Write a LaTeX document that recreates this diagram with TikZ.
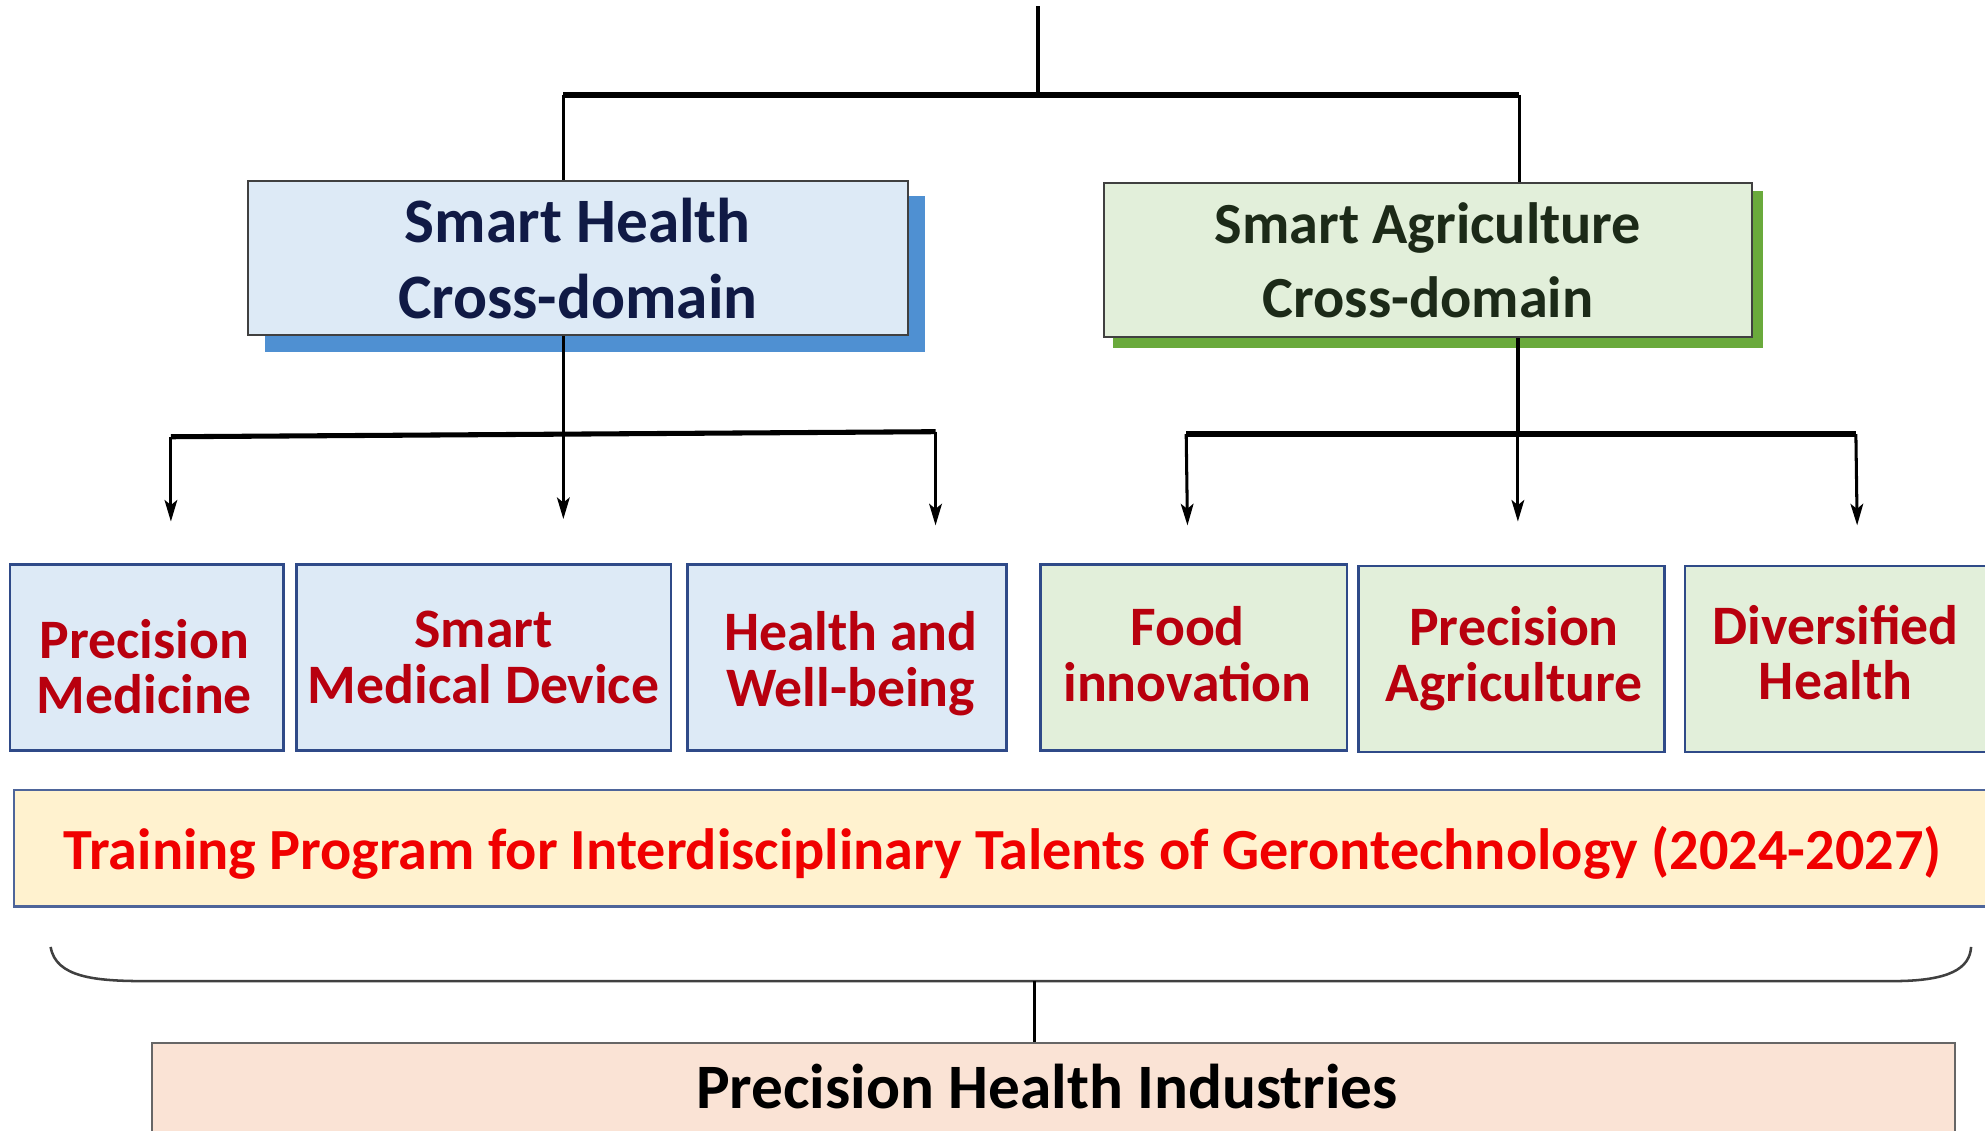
\documentclass[tikz,border=0pt]{standalone}
\usepackage{fontspec}
\setmainfont{Carlito}
\usetikzlibrary{arrows.meta,calc}
\definecolor{hfill}{HTML}{DDEAF6}
\definecolor{afill}{HTML}{E2EFDA}
\definecolor{hshadow}{HTML}{4F90D2}
\definecolor{ashadow}{HTML}{6AAA3C}
\definecolor{boxline}{HTML}{2F4A88}
\definecolor{navytext}{HTML}{101A45}
\definecolor{greentext}{HTML}{1C2A18}
\definecolor{redtext}{HTML}{B8000E}
\definecolor{brightred}{HTML}{F00000}
\definecolor{tfill}{HTML}{FFF2CF}
\definecolor{pfill}{HTML}{FAE3D5}
\tikzset{
  topbox/.style={draw=black!75, line width=1.6pt, minimum width=#1, minimum height=122pt, inner sep=0pt, align=center, font=\bfseries\fontsize{46}{58}\selectfont},
  subbox/.style={draw=boxline, line width=2pt, minimum width=#1, minimum height=147pt, inner sep=0pt},
  sublabel/.style={inner sep=0pt, align=center, text=redtext, font=\bfseries\fontsize{44}{44}\selectfont},
  wire/.style={line width=2.6pt, black},
  bar/.style={line width=4.5pt, black},
  arr/.style={line width=2.4pt, black, -{Stealth[length=17pt,width=10pt,inset=4pt]}}
}
\begin{document}
\begin{tikzpicture}[x=1pt,y=-1pt]
\useasboundingbox (0,0) rectangle (1568,893);
\fill[white] (0,0) rectangle (1568,893);
% top boxes with shadows
\fill[hshadow] (209,155) rectangle (731,278);
\node[topbox=521pt, fill=hfill, text=navytext, font=\bfseries\fontsize{50}{60}\selectfont] (sh) at (456.5,204) {Smart Health\\Cross-domain};
\fill[ashadow] (879,151) rectangle (1393,275);
\node[topbox=512pt, fill=afill, text=greentext] (sa) at (1128,205.5) {Smart Agriculture\\Cross-domain};
% sub boxes
\node[subbox=216pt, fill=hfill] (pm) at (116,519.5) {};
\node[subbox=296pt, fill=hfill] (smd) at (382,519.5) {};
\node[subbox=252pt, fill=hfill] (hw) at (669,519.5) {};
\node[subbox=242pt, fill=afill] (fi) at (943,519.5) {};
\node[subbox=242pt, fill=afill] (pa) at (1194,520.5) {};
\node[subbox=244pt, fill=afill] (dh) at (1453,520.5) {};
\node[sublabel] (pmt) at ($(pm)+(-2,7)$) {Precision\\Medicine};
\node[sublabel] (smdt) at ($(smd)+(0,0)$) {Smart\\Medical Device};
\node[sublabel] (hwt) at ($(hw)+(3,5)$) {Health and\\Well-being};
\node[sublabel] (fit) at ($(fi)+(-5,-3)$) {Food\\innovation};
\node[sublabel] (pat) at ($(pa)+(2,0)$) {Precision\\Agriculture};
\node[sublabel] (dht) at ($(dh)+(-3,-5)$) {Diversified\\Health};
% training program
\node[draw=boxline!85, line width=2pt, fill=tfill, minimum width=1562pt, minimum height=92pt, inner sep=0pt] (tp) at (792,670) {};
\node[inner sep=0pt, text=brightred, font=\bfseries\fontsize{46}{46}\selectfont] (tpt) at ($(tp)+(0,4)$) {Training Program for Interdisciplinary Talents of Gerontechnology (2024-2027)};
% precision health industries
\node[draw=black!60, line width=1.8pt, fill=pfill, minimum width=1424pt, minimum height=140pt, inner sep=0pt, anchor=north] (phi) at (832,823) {};
\node[text=black, font=\bfseries\fontsize{50}{50}\selectfont] (phit) at (827,858) {Precision Health Industries};
% top connectors
\coordinate (top) at (820,5);
\coordinate (j0) at (820,75);
\coordinate (jl) at (445,75);
\coordinate (jr) at (1200,75);
\draw[wire] (top) -- (j0);
\draw[bar] (jl) -- (jr);
\draw[wire] (jl) -- (jl |- sh.north);
\draw[wire] (jr) -- (jr |- sa.north);
% left branch
\coordinate (lb) at (445,343);
\coordinate (lb1) at (135,345);
\coordinate (lb3) at (739,341);
\coordinate (la1) at (135,412);
\coordinate (la2) at (445,410);
\coordinate (la3) at (739,415);
\draw[wire] (lb |- sh.south) -- (lb);
\draw[line width=4pt] (lb1) -- (lb3);
\draw[arr] (lb1) -- (la1);
\draw[arr] (lb) -- (la2);
\draw[arr] (lb3) -- (la3);
% right branch
\coordinate (rb) at (1199,343);
\coordinate (rb1) at (937,343);
\coordinate (rb3) at (1466,343);
\coordinate (ra1) at (938,415);
\coordinate (ra2) at (1199,412);
\coordinate (ra3) at (1467,415);
\draw[wire] (rb |- sa.south) -- (rb);
\draw[bar] (rb1) -- (rb3);
\draw[arr] (rb1) -- (ra1);
\draw[arr] (rb) -- (ra2);
\draw[arr] (rb3) -- (ra3);
% brace
\coordinate (bl) at (40,748);
\coordinate (br) at (1557,748);
\coordinate (bm) at (817,775);
\draw[line width=2pt, black!75] (bl) .. controls (44,772) and (75,775) .. (115,775) -- (1495,775) .. controls (1540,775) and (1556,765) .. (br);
\draw[wire] (bm) -- (bm |- phi.north);
\end{tikzpicture}
\end{document}
